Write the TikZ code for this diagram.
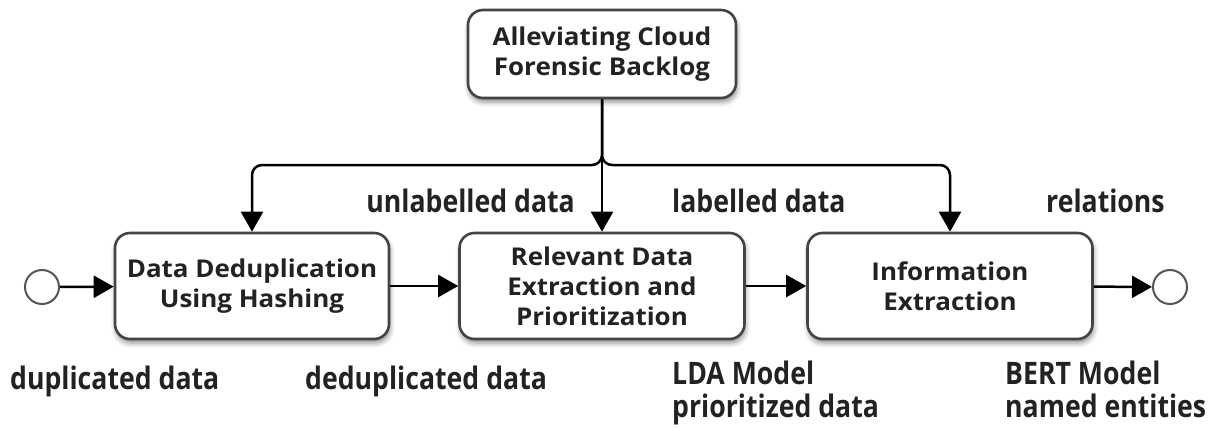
\documentclass[tikz,border=0pt]{standalone}
\usepackage{fontspec}
\setmainfont{Open Sans}
\newfontfamily\boxfont{Open Sans}[FakeStretch=1.06]
\newfontfamily\labelfont{Open Sans}[FakeStretch=0.86]
\usetikzlibrary{arrows.meta,shadows.blur}

\definecolor{boxgray}{HTML}{444444}
\definecolor{textdark}{HTML}{222222}
\definecolor{ringgray}{HTML}{555555}

\tikzset{
  proc/.style={draw=boxgray, line width=2.6pt, rounded corners=15pt, fill=white,
    align=center, inner sep=0pt, text=textdark,
    font=\boxfont\fontsize{24.5}{30}\selectfont\bfseries,
    blur shadow={shadow xshift=1pt, shadow yshift=-4pt,
      shadow blur radius=5pt, shadow opacity=45}},
  event/.style={circle, draw=ringgray, line width=2pt, fill=white,
    minimum size=34pt, inner sep=0pt},
  conn/.style={draw=black, line width=2.5pt,
    -{Triangle[length=20pt,width=22pt]}},
  branch/.style={conn, rounded corners=10pt},
  lbl/.style={inner sep=0pt, align=left, text=textdark,
    font=\labelfont\fontsize{31}{33}\selectfont\bfseries}
}

\begin{document}
\begin{tikzpicture}[x=1pt,y=-1pt]
  \useasboundingbox (0,0) rectangle (1215,428);

  % process boxes
  \node[proc, minimum width=268pt, minimum height=88pt] (goal) at (602,54)
    {Alleviating Cloud\\Forensic Backlog};
  \node[proc, minimum width=274pt, minimum height=106pt] (dedup) at (252,286)
    {Data Deduplication\\Using Hashing};
  \node[proc, minimum width=285pt, minimum height=106pt] (rel) at (602,286)
    {Relevant Data\\Extraction and\\Prioritization};
  \node[proc, minimum width=285pt, minimum height=106pt] (info) at (950,286)
    {Information\\Extraction};

  % start and end events
  \node[event] (start) at (42,287) {};
  \node[event] (stop) at (1170,287) {};

  % junction level of the fan-out
  \coordinate (j) at (602,165);

  % fan-out from the goal to the three stages
  \draw[branch] (goal.south) |- (dedup.north |- j) -- (dedup.north);
  \draw[conn] (goal.south) -- (rel.north);
  \draw[branch] (goal.south) |- (info.north |- j) -- (info.north);

  % main flow
  \draw[conn] (start) -- (dedup);
  \draw[conn] (dedup) -- (rel);
  \draw[conn] (rel) -- (info);
  \draw[conn] (info) -- (stop);

  % data labels
  \node[lbl, anchor=base east] (lunl) at (575,212) {unlabelled data};
  \node[lbl, anchor=base west] (llab) at (672,212) {labelled data};
  \node[lbl, anchor=base west] (lrel) at (1046,212) {relations};
  \node[lbl, anchor=base west] (ldup) at (10,389) {duplicated data};
  \node[lbl, anchor=base west] (ldedup) at (305,389) {deduplicated data};
  \node[lbl, anchor=north west] (llda) at (672,361) {LDA Model\\prioritized data};
  \node[lbl, anchor=north west] (lbert) at (1005,361) {BERT Model\\named entities};
\end{tikzpicture}
\end{document}
